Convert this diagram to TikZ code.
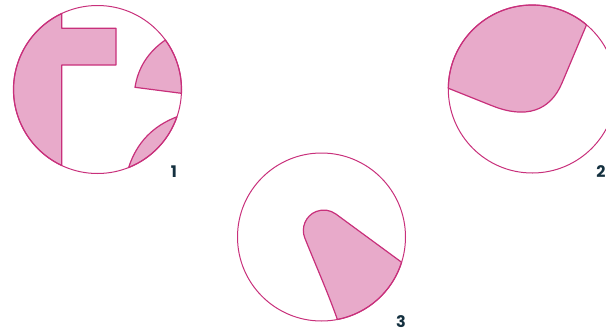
\documentclass[tikz,border=0pt]{standalone}
\usepackage{fontspec}
\usetikzlibrary{calc}
\newfontfamily\tagfont{Poppins}
\definecolor{rim}{HTML}{C8307B}
\definecolor{petal}{HTML}{E8AACA}
\definecolor{ink}{HTML}{14303F}

\begin{document}
\begin{tikzpicture}[
x=1pt,
y=1pt,
yscale=-1,
disc/.style={
draw=rim,
line width=1pt
},
piece/.style={
draw=rim,
fill=petal,
line width=1.2pt,
line join=round
},
tag/.style={
text=ink,
inner sep=0pt,
font=\tagfont\bfseries\fontsize{16}{16}\selectfont
}
]

\useasboundingbox (0,0) rectangle (606,333);

% centres
\coordinate (c1) at (97.5,89.5);
\coordinate (c2) at (532.3,89);
\coordinate (c3) at (321.5,237);


% Circle 1
\draw[piece] ($(c1)+(244.8:84)$) arc[start angle=244.8, end angle=115.2, radius=84]
  -- (61.7,65) -- (116,65) -- (116,28.3) -- (61.7,28.3) -- cycle;

\draw[piece] ($(c1)+(-36.1:84)$) .. controls (148,52) and (138,68) .. (135,87.3)
  -- ($(c1)+(2.6:84)$) arc[start angle=2.6, end angle=-36.1, radius=84] -- cycle;

\draw[piece] ($(c1)+(18.95:84)$) .. controls (152.9,126) and (136.7,142.6) .. ($(c1)+(68.25:84)$)
  arc[start angle=68.25, end angle=18.95, radius=84] -- cycle;

\draw[disc] (c1) circle[radius=84];


% Circle 2
\draw[piece] ($(c2)+(180.5:84)$) arc[start angle=180.5, end angle=310.2, radius=84]
  -- (562,83) .. controls (550.1,111.2) and (525.6,119.2) .. (492,105.7) -- cycle;

\draw[disc] (c2) circle[radius=84];


% Circle 3
\draw[piece] ($(c3)+(79.1:84)$) .. controls (328.4,293.8) and (314.8,263) .. (304.8,238)
  arc[start angle=158.2, end angle=306.6, radius=20.4]
  -- ($(c3)+(17.5:84)$) arc[start angle=17.5, end angle=79.1, radius=84] -- cycle;

\draw[disc] (c3) circle[radius=84];


% labels
\node[tag] (one) at (174,172) {1};
\node[tag] (two) at (601,172) {2};
\node[tag] (three) at (401,322) {3};

\end{tikzpicture}
\end{document}
